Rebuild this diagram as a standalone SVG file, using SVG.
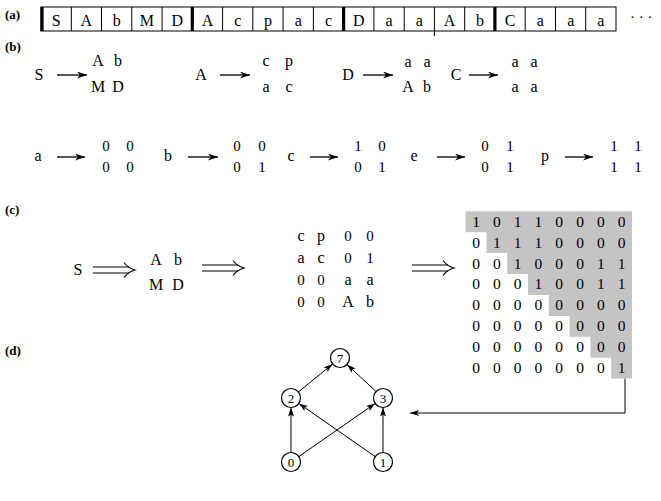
<svg xmlns="http://www.w3.org/2000/svg" xmlns:xlink="http://www.w3.org/1999/xlink" width="661" height="501" viewBox="0 0 661 501">
  <style>
    text { font-family: "Liberation Serif", "Times New Roman", serif; fill: #000; }
    .lbl { font-size: 13px; font-weight: bold; }
    .cell { font-size: 16px; text-anchor: middle; }
    .sym { font-size: 16px; text-anchor: middle; }
    .dig { font-size: 15px; text-anchor: middle; }
    .mx { font-size: 15.5px; text-anchor: middle; }
    .nd { font-size: 13px; text-anchor: middle; }
    .ln { stroke: #000; stroke-width: 1; fill: none; }
    .thick { stroke: #000; stroke-width: 3.2; }
    .arr { stroke: #000; stroke-width: 1.3; fill: none; marker-end: url(#dart); }
    .edge { stroke: #000; stroke-width: 1; fill: none; marker-end: url(#head); }
    .node circle { fill: #fff; stroke: #000; stroke-width: 1.2; }
  </style>
  <defs>
    <marker id="dart" markerUnits="userSpaceOnUse" markerWidth="12" markerHeight="8" refX="10" refY="3.5" orient="auto">
      <path d="M0,0 L10,3.5 L0,7 L3,3.5 z" fill="#000"/>
    </marker>
    <marker id="head" markerUnits="userSpaceOnUse" markerWidth="10" markerHeight="8" refX="9" refY="3" orient="auto">
      <path d="M0,0 L9,3 L0,6 L2,3 z" fill="#000"/>
    </marker>
    <!-- long double arrow, 42 units wide, origin at left/middle -->
    <g id="dbl" fill="none" stroke="#000" stroke-width="1.1">
      <path d="M0,-3 H36 M0,3 H36"/>
      <path d="M31,-7.5 Q35,-2 42,0 Q35,2 31,7.5"/>
    </g>
  </defs>

  <!-- (a) symbol string -->
  <g id="part-a">
    <text class="lbl" x="5" y="19">(a)</text>
    <rect class="ln" x="41" y="7" width="575" height="24"/>
    <g class="ln">
      <path d="M71.3,7V31 M101.5,7V31 M131.8,7V31 M162.1,7V31
               M222.6,7V31 M252.8,7V31 M283.1,7V31 M313.4,7V31
               M373.9,7V31 M404.2,7V31 M434.4,7V31 M464.7,7V31
               M525.2,7V31 M555.5,7V31 M585.7,7V31
               M434.4,31V36"/>
    </g>
    <g class="thick">
      <line x1="42" y1="7" x2="42" y2="31"/>
      <line x1="192.3" y1="7" x2="192.3" y2="31"/>
      <line x1="343.6" y1="7" x2="343.6" y2="31"/>
      <line x1="494.9" y1="7" x2="494.9" y2="31"/>
    </g>
    <text class="cell" x="56.1" y="25.5">S</text>
    <text class="cell" x="86.4" y="25.5">A</text>
    <text class="cell" x="116.7" y="25.5">b</text>
    <text class="cell" x="146.9" y="25.5">M</text>
    <text class="cell" x="177.2" y="25.5">D</text>
    <text class="cell" x="207.5" y="25.5">A</text>
    <text class="cell" x="237.7" y="25.5">c</text>
    <text class="cell" x="268" y="25.5">p</text>
    <text class="cell" x="298.3" y="25.5">a</text>
    <text class="cell" x="328.5" y="25.5">c</text>
    <text class="cell" x="358.8" y="25.5">D</text>
    <text class="cell" x="389" y="25.5">a</text>
    <text class="cell" x="419.3" y="25.5">a</text>
    <text class="cell" x="449.6" y="25.5">A</text>
    <text class="cell" x="479.9" y="25.5">b</text>
    <text class="cell" x="510.1" y="25.5">C</text>
    <text class="cell" x="540.4" y="25.5">a</text>
    <text class="cell" x="570.7" y="25.5">a</text>
    <text class="cell" x="600.9" y="25.5">a</text>
    <text x="630" y="22" style="font-size:15px">· · ·</text>
  </g>

  <!-- (b) production rules -->
  <g id="part-b">
    <text class="lbl" x="5" y="51">(b)</text>
    <!-- non-terminal rules -->
    <text class="sym" x="39" y="80">S</text>
    <text class="sym" x="98" y="66">A</text><text class="sym" x="118" y="66">b</text>
    <text class="sym" x="98" y="92">M</text><text class="sym" x="118" y="92">D</text>

    <text class="sym" x="201" y="80">A</text>
    <text class="sym" x="266" y="66">c</text><text class="sym" x="289" y="66">p</text>
    <text class="sym" x="266" y="92">a</text><text class="sym" x="289" y="92">c</text>

    <text class="sym" x="348" y="80">D</text>
    <text class="sym" x="408" y="67">a</text><text class="sym" x="427" y="67">a</text>
    <text class="sym" x="408" y="92">A</text><text class="sym" x="427" y="92">b</text>

    <text class="sym" x="456" y="80">C</text>
    <text class="sym" x="515" y="67">a</text><text class="sym" x="534" y="67">a</text>
    <text class="sym" x="515" y="92">a</text><text class="sym" x="534" y="92">a</text>

    <!-- terminal rules -->
    <text class="sym" x="38" y="161">a</text>
    <text class="dig" x="106" y="151">0</text><text class="dig" x="130" y="151">0</text>
    <text class="dig" x="106" y="172">0</text><text class="dig" x="130" y="172">0</text>

    <text class="sym" x="168" y="161">b</text>
    <text class="dig" x="237" y="151">0</text><text class="dig" x="262" y="151">0</text>
    <text class="dig" x="237" y="172">0</text><text class="dig" x="262" y="172">1</text>

    <text class="sym" x="291" y="161">c</text>
    <text class="dig" x="358" y="151">1</text><text class="dig" x="382" y="151">0</text>
    <text class="dig" x="358" y="172">0</text><text class="dig" x="382" y="172">1</text>

    <text class="sym" x="414" y="161">e</text>
    <text class="dig" x="485" y="151">0</text><text class="dig" x="510" y="151">1</text>
    <text class="dig" x="485" y="172">0</text><text class="dig" x="510" y="172">1</text>

    <text class="sym" x="545" y="161">p</text>
    <text class="dig" x="614" y="151">1</text><text class="dig" x="638" y="151">1</text>
    <text class="dig" x="614" y="172">1</text><text class="dig" x="638" y="172">1</text>
  </g>

  <!-- (c) derivation -->
  <g id="part-c">
    <text class="lbl" x="5" y="214">(c)</text>
    <text class="sym" x="78" y="275">S</text>
    <text class="sym" x="156" y="265">A</text><text class="sym" x="178" y="265">b</text>
    <text class="sym" x="156" y="290">M</text><text class="sym" x="178" y="290">D</text>

    <text class="sym" x="301" y="241">c</text><text class="sym" x="321" y="241">p</text>
    <text class="dig" x="348" y="241">0</text><text class="dig" x="370" y="241">0</text>
    <text class="sym" x="301" y="263">a</text><text class="sym" x="321" y="263">c</text>
    <text class="dig" x="348" y="263">0</text><text class="dig" x="370" y="263">1</text>
    <text class="dig" x="301" y="285">0</text><text class="dig" x="321" y="285">0</text>
    <text class="sym" x="348" y="285">a</text><text class="sym" x="370" y="285">a</text>
    <text class="dig" x="301" y="307">0</text><text class="dig" x="321" y="307">0</text>
    <text class="sym" x="348" y="307">A</text><text class="sym" x="370" y="307">b</text>

    <!-- final matrix with shaded upper triangle -->
    <polygon fill="#c4c4c4" points="465.6,211.3 632,211.3 632,378.6 611.2,378.6 611.2,357.7 590.4,357.7 590.4,336.8 569.6,336.8 569.6,316 548.8,316 548.8,295 528,295 528,274 507.2,274 507.2,253 486.4,253 486.4,232.2 465.6,232.2"/>
    <g class="mx">
      <text x="476" y="226.7">1</text><text x="496.8" y="226.7">0</text><text x="517.6" y="226.7">1</text><text x="538.4" y="226.7">1</text><text x="559.2" y="226.7">0</text><text x="580" y="226.7">0</text><text x="600.8" y="226.7">0</text><text x="621.6" y="226.7">0</text>
      <text x="476" y="247.6">0</text><text x="496.8" y="247.6">1</text><text x="517.6" y="247.6">1</text><text x="538.4" y="247.6">1</text><text x="559.2" y="247.6">0</text><text x="580" y="247.6">0</text><text x="600.8" y="247.6">0</text><text x="621.6" y="247.6">0</text>
      <text x="476" y="268.5">0</text><text x="496.8" y="268.5">0</text><text x="517.6" y="268.5">1</text><text x="538.4" y="268.5">0</text><text x="559.2" y="268.5">0</text><text x="580" y="268.5">0</text><text x="600.8" y="268.5">1</text><text x="621.6" y="268.5">1</text>
      <text x="476" y="289.4">0</text><text x="496.8" y="289.4">0</text><text x="517.6" y="289.4">0</text><text x="538.4" y="289.4">1</text><text x="559.2" y="289.4">0</text><text x="580" y="289.4">0</text><text x="600.8" y="289.4">1</text><text x="621.6" y="289.4">1</text>
      <text x="476" y="310.3">0</text><text x="496.8" y="310.3">0</text><text x="517.6" y="310.3">0</text><text x="538.4" y="310.3">0</text><text x="559.2" y="310.3">0</text><text x="580" y="310.3">0</text><text x="600.8" y="310.3">0</text><text x="621.6" y="310.3">0</text>
      <text x="476" y="331.2">0</text><text x="496.8" y="331.2">0</text><text x="517.6" y="331.2">0</text><text x="538.4" y="331.2">0</text><text x="559.2" y="331.2">0</text><text x="580" y="331.2">0</text><text x="600.8" y="331.2">0</text><text x="621.6" y="331.2">0</text>
      <text x="476" y="352.1">0</text><text x="496.8" y="352.1">0</text><text x="517.6" y="352.1">0</text><text x="538.4" y="352.1">0</text><text x="559.2" y="352.1">0</text><text x="580" y="352.1">0</text><text x="600.8" y="352.1">0</text><text x="621.6" y="352.1">0</text>
      <text x="476" y="373">0</text><text x="496.8" y="373">0</text><text x="517.6" y="373">0</text><text x="538.4" y="373">0</text><text x="559.2" y="373">0</text><text x="580" y="373">0</text><text x="600.8" y="373">0</text><text x="621.6" y="373">1</text>
    </g>
  </g>

  <!-- (d) graph -->
  <text class="lbl" x="5" y="355">(d)</text>
  <g id="n7" class="node"><circle cx="340" cy="358" r="9.5"/><text class="nd" x="340" y="362.5">7</text></g>
  <g id="n2" class="node"><circle cx="291" cy="398" r="9.5"/><text class="nd" x="291" y="402.5">2</text></g>
  <g id="n3" class="node"><circle cx="383" cy="398" r="9.5"/><text class="nd" x="383" y="402.5">3</text></g>
  <g id="n0" class="node"><circle cx="291" cy="462" r="9.5"/><text class="nd" x="291" y="466.5">0</text></g>
  <g id="n1" class="node"><circle cx="383" cy="462" r="9.5"/><text class="nd" x="383" y="466.5">1</text></g>

  <!-- connectors -->
  <g id="connectors">
    <!-- production arrows -->
    <line class="arr" x1="57" y1="75" x2="87" y2="75"/>
    <line class="arr" x1="220" y1="75" x2="250" y2="75"/>
    <line class="arr" x1="363" y1="75" x2="393" y2="75"/>
    <line class="arr" x1="469" y1="75" x2="498" y2="75"/>
    <line class="arr" x1="57" y1="157" x2="85" y2="157"/>
    <line class="arr" x1="188" y1="157" x2="218" y2="157"/>
    <line class="arr" x1="310" y1="157" x2="338" y2="157"/>
    <line class="arr" x1="437" y1="157" x2="465" y2="157"/>
    <line class="arr" x1="565" y1="157" x2="593" y2="157"/>
    <!-- derivation steps -->
    <use xlink:href="#dbl" href="#dbl" x="93" y="270"/>
    <use xlink:href="#dbl" href="#dbl" x="202" y="268"/>
    <use xlink:href="#dbl" href="#dbl" x="412" y="268"/>
    <!-- matrix to graph -->
    <path class="edge" d="M625,378.6 V413 H410"/>
    <!-- graph edges -->
    <line class="edge" x1="298" y1="392.3" x2="332.6" y2="364"/>
    <line class="edge" x1="376.4" y1="391.9" x2="347" y2="364.5"/>
    <line class="edge" x1="291" y1="453" x2="291" y2="407.5"/>
    <line class="edge" x1="383" y1="453" x2="383" y2="407.5"/>
    <line class="edge" x1="375.6" y1="456.9" x2="298.8" y2="403.4"/>
    <line class="edge" x1="298.4" y1="456.9" x2="375.2" y2="403.4"/>
  </g>
</svg>
